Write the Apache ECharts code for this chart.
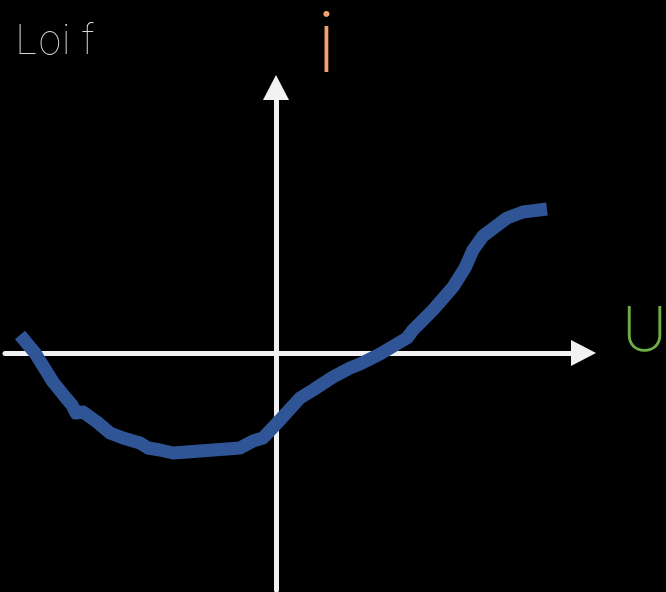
<!DOCTYPE html>
<html>
<head>
<meta charset="utf-8">
<style>
  html, body { margin: 0; padding: 0; background: #000; }
  #chart { width: 666px; height: 592px; }
</style>
<script src="https://cdn.jsdelivr.net/npm/echarts@6/dist/echarts.min.js"></script>
</head>
<body>
<div id="chart"></div>
<script>
// Characteristic curve i = f(U)
const uValues = [-25.6, -24.1, -22.3, -21.0, -20.4, -20.0, -19.3, -17.9, -16.6, -15.3, -13.6, -12.8, -11.6, -10.3, -8.9, -7.6, -3.6, -2.3, -1.3, 0.4, 2.4, 3.7, 5.7, 7.4, 8.4, 10.4, 13.1, 13.7, 15.7, 17.7, 18.9, 19.7, 20.7, 23.1, 24.7, 27.1];
const iValues = [1.8, 0.0, -2.9, -4.5, -5.2, -6.0, -5.9, -6.9, -8.0, -8.5, -9.0, -9.5, -9.7, -10.0, -9.9, -9.8, -9.5, -8.8, -8.5, -6.7, -4.5, -3.7, -2.4, -1.5, -1.1, -0.1, 1.5, 2.3, 4.3, 6.6, 8.5, 10.3, 11.7, 13.5, 14.1, 14.4];

const titleText = 'Loi f';
const yName = 'i';
const xName = 'U';

const points = uValues.map((u, k) => [u, iValues[k]]);
const thinFont = 'Inter, Lato, "Open Sans", sans-serif';

const chart = echarts.init(document.getElementById('chart'), null, { renderer: 'canvas' });

const axisLine = {
  show: true,
  onZero: true,
  symbol: ['none', 'triangle'],
  symbolSize: [26, 25],
  lineStyle: { color: '#f2f2f2', width: 5 }
};

chart.setOption({
  backgroundColor: '#000000',
  animation: false,
  title: [
    { text: titleText, left: 10, top: 16,
      textStyle: { color: '#d9d9d9', fontFamily: thinFont, fontWeight: 100, fontSize: 41 } },
    { text: yName, left: 312, top: 0,
      textStyle: { color: '#f4a070', fontFamily: thinFont, fontWeight: 200, fontSize: 84 } },
    { text: xName, left: 617, top: 296,
      textStyle: { color: '#70ad47', fontFamily: thinFont, fontWeight: 200, fontSize: 62 } }
  ],
  grid: { left: 5, right: 82.5, top: 87.5, bottom: 2, containLabel: false },
  xAxis: {
    type: 'value', min: -27.1, max: 30.75,
    axisLine: axisLine,
    axisTick: { show: false }, axisLabel: { show: false }, splitLine: { show: false }
  },
  yAxis: {
    type: 'value', min: -23.7, max: 26.55,
    axisLine: axisLine,
    axisTick: { show: false }, axisLabel: { show: false }, splitLine: { show: false }
  },
  series: [{
    type: 'line',
    data: points,
    showSymbol: false,
    clip: false,
    lineStyle: { color: '#2f5597', width: 13, cap: 'butt', join: 'round' }
  }]
});
</script>
</body>
</html>
